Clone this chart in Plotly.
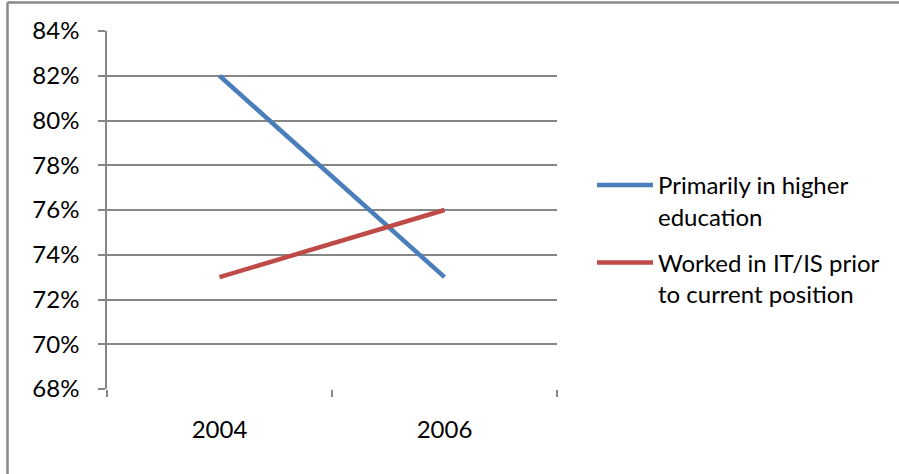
import plotly.graph_objects as go

years = ["2004", "2006"]
higher_ed = [82, 73]
worked_it = [73, 76]
series_names = ["Primarily in higher<br>education", "Worked in IT/IS prior<br>to current position"]
series_colors = ["#4a7ebb", "#be4b48"]
y_ticks = [68, 70, 72, 74, 76, 78, 80, 82, 84]

W, H = 899, 474
L, R, T, B = 107, 342, 31, 85
grid = "#868686"
font = dict(family="Lato, Carlito, Calibri, sans-serif", size=24, color="#000000")

fig = go.Figure()
for i, (name, vals, col) in enumerate(zip(series_names, [higher_ed, worked_it], series_colors)):
    fig.add_trace(go.Scatter(x=years, y=vals, mode="lines", name=name,
                             legendgroup=f"g{i}",
                             line=dict(color=col, width=4.5)))

pw = W - L - R
ph = H - T - B
fig.update_layout(
    width=W, height=H,
    margin=dict(l=L, r=R, t=T, b=B),
    paper_bgcolor="white", plot_bgcolor="white",
    font=font,
    showlegend=True,
    legend=dict(x=(592 - L) / pw, y=1 - (163 - T) / ph,
                xanchor="left", yanchor="top", valign="top",
                font=font, tracegroupgap=12, itemwidth=56,
                bgcolor="rgba(0,0,0,0)"),
    xaxis=dict(type="category", range=[-0.5, 1.5], showgrid=False,
               showline=False, zeroline=False,
               ticks="outside", tickson="boundaries", ticklen=7, tickwidth=1.5,
               tickcolor=grid, ticklabelstandoff=24),
    yaxis=dict(range=[68, 84], tickvals=y_ticks,
               ticktext=[f"{v}%" for v in y_ticks],
               showgrid=True, gridcolor=grid, gridwidth=1.5,
               showline=True, linecolor=grid, linewidth=1.5,
               zeroline=False,
               ticks="outside", ticklen=7, tickwidth=1.5, tickcolor=grid,
               ticklabelstandoff=14),
)

# outer chart frame (top and left edges visible)
fig.add_shape(type="line", xref="paper", yref="paper",
              x0=(7.5 - L) / pw, x1=(W + 5 - L) / pw,
              y0=1 + (T - 2.5) / ph, y1=1 + (T - 2.5) / ph,
              line=dict(color="#888888", width=2.5))
fig.add_shape(type="line", xref="paper", yref="paper",
              x0=(7.5 - L) / pw, x1=(7.5 - L) / pw,
              y0=1 + (T - 2.5) / ph, y1=-(B + 5) / ph,
              line=dict(color="#888888", width=2.5))

fig.write_html("out.html")
